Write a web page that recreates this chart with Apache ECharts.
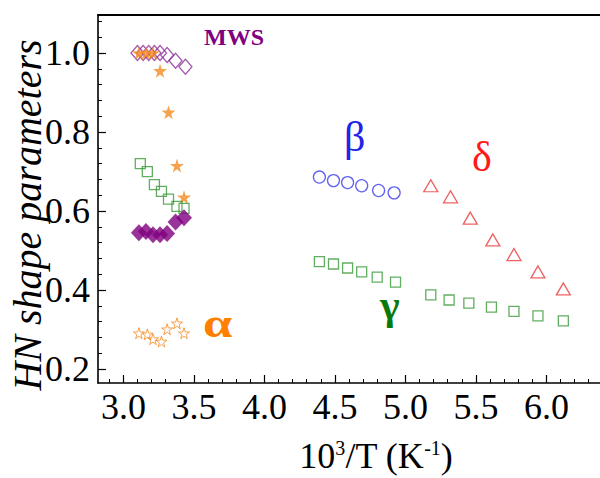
<!DOCTYPE html>
<html>
<head>
<meta charset="utf-8">
<script src="https://cdn.jsdelivr.net/npm/echarts@6/dist/echarts.min.js"></script>
<style>html,body{margin:0;padding:0;background:#fff}#c{width:600px;height:478px}</style>
</head>
<body>
<div id="c"></div>
<script>
// ---- data ----
const xMajorTicks = [3.0, 3.5, 4.0, 4.5, 5.0, 5.5, 6.0];
const yMajorTicks = [0.2, 0.4, 0.6, 0.8, 1.0];

const mwsOpenX = [3.10, 3.14, 3.18, 3.22, 3.26, 3.31, 3.37, 3.44];
const mwsOpenY = [1.0, 1.0, 1.0, 1.0, 1.0, 0.995, 0.98, 0.965];

const starFilledX = [3.11, 3.16, 3.21, 3.26, 3.32, 3.38, 3.43];
const starFilledY = [1.0, 1.0, 1.0, 0.955, 0.85, 0.715, 0.635];

const mwsGreenX = [3.12, 3.17, 3.22, 3.27, 3.32, 3.38, 3.43];
const mwsGreenY = [0.72, 0.70, 0.667, 0.65, 0.63, 0.612, 0.607];

const filledDiaX = [3.11, 3.16, 3.21, 3.26, 3.31, 3.37, 3.43];
const filledDiaY = [0.545, 0.548, 0.54, 0.54, 0.543, 0.572, 0.583];

const alphaX = [3.11, 3.17, 3.21, 3.27, 3.31, 3.38, 3.43];
const alphaY = [0.291, 0.288, 0.276, 0.27, 0.301, 0.316, 0.291];

const betaX = [4.39, 4.49, 4.59, 4.69, 4.81, 4.92];
const betaY = [0.686, 0.677, 0.672, 0.664, 0.652, 0.646];

const gammaX = [4.39, 4.49, 4.59, 4.69, 4.80, 4.93, 5.18, 5.31, 5.45, 5.61, 5.77, 5.94, 6.12];
const gammaY = [0.472, 0.466, 0.456, 0.446, 0.433, 0.420, 0.388, 0.375, 0.367, 0.357, 0.346, 0.335, 0.322];

const deltaX = [5.18, 5.32, 5.46, 5.62, 5.77, 5.94, 6.12];
const deltaY = [0.664, 0.636, 0.582, 0.527, 0.49, 0.446, 0.403];

// ---- build ----
const zip = (xs, ys) => xs.map((x, i) => [x, ys[i]]);
const XMIN = 2.82, XMAX = 6.38, YMIN = 0.165, YMAX = 1.096;
const xMinor = [], yMinor = [];
for (let k = 29; k <= 63; k++) { if (k % 5 !== 0) xMinor.push(k / 10); }
for (let k = 5; k <= 27; k++) { if (k % 5 !== 0) yMinor.push(+(k * 0.04).toFixed(2)); }

const STAR = 'path://M50,0 L61,35 L98,35 L68,57 L79,91 L50,70 L21,91 L32,57 L2,35 L39,35 Z';
const FF = 'Liberation Serif';
const open = (c, w) => ({ color: 'rgba(255,255,255,0)', borderColor: c, borderWidth: w || 1.3 });
const txt = (t, color, size, weight, style) => ({ text: t, fill: color, fontFamily: FF, fontSize: size, fontWeight: weight || 'normal', fontStyle: style || 'normal' });

const chart = echarts.init(document.getElementById('c'), null, { renderer: 'svg' });
chart.setOption({
  animation: false,
  backgroundColor: '#fff',
  textStyle: { fontFamily: FF },
  grid: { left: 98, top: 15, right: 0, bottom: 95 },
  xAxis: [
    { type: 'value', position: 'bottom', min: XMIN, max: XMAX,
      axisLine: { lineStyle: { color: '#000', width: 1.6 } },
      axisTick: { inside: true, length: 8, customValues: xMajorTicks, lineStyle: { color: '#000', width: 1.2 } },
      axisLabel: { customValues: xMajorTicks, formatter: v => v.toFixed(1), color: '#000', fontFamily: FF, fontSize: 36, margin: 6 },
      splitLine: { show: false } },
    { type: 'value', position: 'bottom', min: XMIN, max: XMAX,
      axisLine: { show: false },
      axisTick: { inside: true, length: 4, customValues: xMinor, lineStyle: { color: '#000', width: 1 } },
      axisLabel: { show: false }, splitLine: { show: false } },
    { type: 'value', position: 'top', min: XMIN, max: XMAX,
      axisLine: { lineStyle: { color: '#000', width: 2 } },
      axisTick: { show: false }, axisLabel: { show: false }, splitLine: { show: false } }
  ],
  yAxis: [
    { type: 'value', position: 'left', min: YMIN, max: YMAX,
      axisLine: { show: true, lineStyle: { color: '#000', width: 1.6 } },
      axisTick: { show: true, inside: true, length: 8, customValues: yMajorTicks, lineStyle: { color: '#000', width: 1.2 } },
      axisLabel: { customValues: yMajorTicks, formatter: v => v.toFixed(1), color: '#000', fontFamily: FF, fontSize: 36, margin: 8 },
      splitLine: { show: false } },
    { type: 'value', position: 'left', min: YMIN, max: YMAX,
      axisLine: { show: false },
      axisTick: { show: true, inside: true, length: 4, customValues: yMinor, lineStyle: { color: '#000', width: 1 } },
      axisLabel: { show: false }, splitLine: { show: false } }
  ],
  series: [
    { type: 'scatter', name: 'MWS open', data: zip(mwsOpenX, mwsOpenY), symbol: 'diamond', symbolSize: [13, 15], itemStyle: open('#8a2d9a') },
    { type: 'scatter', name: 'stars filled', data: zip(starFilledX, starFilledY), symbol: STAR, symbolSize: 14, itemStyle: { color: '#f58a1f' } },
    { type: 'scatter', name: 'MWS green', data: zip(mwsGreenX, mwsGreenY), symbol: 'rect', symbolSize: 10, itemStyle: open('#3a9a3a') },
    { type: 'scatter', name: 'MWS filled', data: zip(filledDiaX, filledDiaY), symbol: 'diamond', symbolSize: [16, 17], itemStyle: { color: '#800080' } },
    { type: 'scatter', name: 'alpha', data: zip(alphaX, alphaY), symbol: STAR, symbolSize: 11, itemStyle: open('#f58a1f', 1) },
    { type: 'scatter', name: 'beta', data: zip(betaX, betaY), symbol: 'circle', symbolSize: 12, itemStyle: open('#3b3bf0') },
    { type: 'scatter', name: 'gamma', data: zip(gammaX, gammaY), symbol: 'rect', symbolSize: 10, itemStyle: open('#3a9a3a') },
    { type: 'scatter', name: 'delta', data: zip(deltaX, deltaY), symbol: 'triangle', symbolSize: [14, 12], itemStyle: open('#e83a3a') }
  ],
  graphic: [
    { type: 'text', left: 204, top: 25, style: txt('MWS', '#800080', 24, 'bold') },
    { type: 'text', left: 344, top: 116, style: txt('β', '#2323e8', 42) },
    { type: 'text', left: 472, top: 136, style: txt('δ', '#ff1a1a', 42) },
    { type: 'text', left: 380, top: 284, style: txt('γ', '#0b7a0b', 42, 'bold') },
    { type: 'text', x: 203, y: 302, scaleX: 1.25, style: txt('α', '#ff8000', 42, 'bold') },
    { type: 'text', x: 27, y: 215, rotation: Math.PI / 2,
      style: Object.assign(txt('HN shape parameters', '#000', 40, 'normal', 'italic'), { align: 'center', verticalAlign: 'middle' }) },
    { type: 'text', x: 376, y: 456,
      style: Object.assign(txt('10{s|3}/T (K{s|-1})', '#000', 36), { align: 'center', verticalAlign: 'middle',
        rich: { s: { fontSize: 20, fontFamily: FF, padding: [0, 0, 16, 0], fill: '#000' } } }) }
  ]
});
</script>
</body>
</html>
